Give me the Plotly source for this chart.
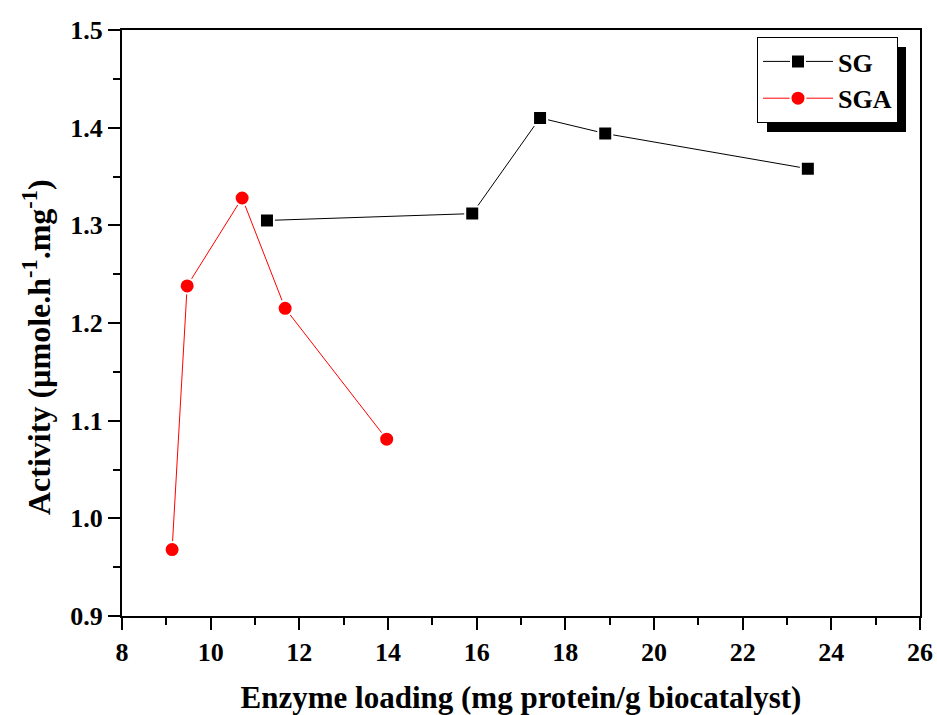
import plotly.graph_objects as go

sg_x = [11.27, 15.90, 17.43, 18.90, 23.47]
sg_y = [1.305, 1.312, 1.410, 1.394, 1.358]
sga_x = [9.13, 9.47, 10.71, 11.68, 13.97]
sga_y = [0.968, 1.238, 1.328, 1.215, 1.081]

x_ticks = [8, 10, 12, 14, 16, 18, 20, 22, 24, 26]
y_ticks = [0.9, 1.0, 1.1, 1.2, 1.3, 1.4, 1.5]

FONT = "Liberation Serif"
L, R, T, B = 122, 920, 30, 616
PW, PH = R - L, B - T

fig = go.Figure()
fig.add_trace(go.Scatter(
    x=sg_x, y=sg_y, mode="lines+markers", name="SG",
    line=dict(color="black", width=1),
    marker=dict(symbol="square", size=14, color="black", line=dict(color="white", width=2)),
))
fig.add_trace(go.Scatter(
    x=sga_x, y=sga_y, mode="lines+markers", name="SGA",
    line=dict(color="red", width=1),
    marker=dict(symbol="circle", size=15, color="red", line=dict(color="white", width=2)),
))

axis_common = dict(
    showline=True, linecolor="black", linewidth=2, mirror=True,
    ticks="outside", ticklen=12, tickwidth=2, tickcolor="black",
    showgrid=False, zeroline=False, automargin=False,
    tickfont=dict(family=FONT, size=26, color="black", weight="bold"),
)

fig.update_xaxes(
    range=[8, 26], tickvals=x_ticks, ticktext=[str(v) for v in x_ticks],
    minor=dict(dtick=1, ticks="outside", ticklen=7, tickwidth=2, tickcolor="black"),
    title=dict(text="<b>Enzyme loading (mg protein/g biocatalyst)</b>",
               font=dict(family=FONT, size=31, color="black"), standoff=34),
    **axis_common,
)
fig.update_yaxes(
    range=[0.9, 1.5], tickvals=y_ticks, ticktext=[f"{v:.1f}" for v in y_ticks],
    minor=dict(dtick=0.05, ticks="outside", ticklen=7, tickwidth=2, tickcolor="black"),
    **axis_common,
)

# y-axis title as annotation (slightly below centre, as in the reference)
fig.add_annotation(
    text="<b>Activity (µmole.h<sup>-1</sup>.mg<sup>-1</sup>)</b>",
    xref="paper", yref="paper", x=(37 - L) / PW, y=(B - 347) / PH,
    xanchor="center", yanchor="middle", textangle=-90, showarrow=False,
    font=dict(family=FONT, size=32, color="black"),
)

# legend shadow
fig.add_shape(type="rect", xref="paper", yref="paper",
              x0=(767 - L) / PW, x1=(906 - L) / PW,
              y0=(B - 132) / PH, y1=(B - 47) / PH,
              fillcolor="black", line=dict(width=0), layer="above")

fig.update_layout(
    width=937, height=715,
    margin=dict(l=L, r=937 - R, t=T, b=715 - B),
    plot_bgcolor="white", paper_bgcolor="white",
    showlegend=True,
    legend=dict(
        x=(757 - L) / PW, y=(B - 37) / PH, xanchor="left", yanchor="top",
        bgcolor="white", bordercolor="black", borderwidth=1,
        font=dict(family=FONT, size=26, color="black", weight="bold"),
        itemwidth=70, tracegroupgap=0,
    ),
)

fig.write_html("out.html", config={"displayModeBar": False},
               post_script="document.body.style.margin='0';document.body.style.overflow='hidden';")
